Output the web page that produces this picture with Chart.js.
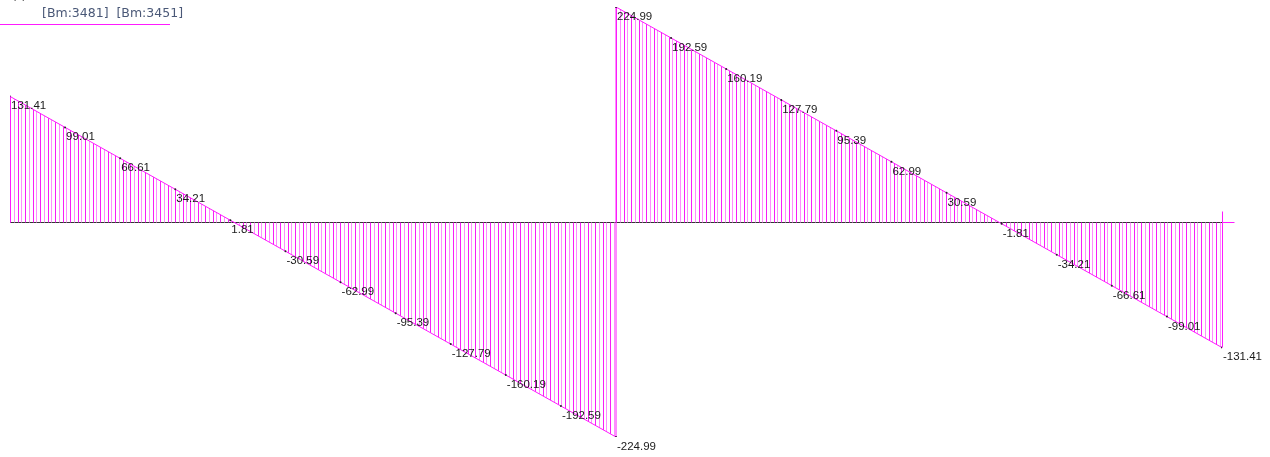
<!DOCTYPE html>
<html>
<head>
<meta charset="utf-8">
<script src="https://cdn.jsdelivr.net/npm/chart.js@4.4.0/dist/chart.umd.min.js"></script>
<style>
  html, body { margin: 0; padding: 0; background: #fff; overflow: hidden; }
  #grafico { display: block; }
</style>
</head>
<body>
<canvas id="grafico" width="1270" height="457"></canvas>
<script>
// estaciones a lo largo de las dos vigas (0..11 primer tramo, 11..22 segundo)
const estaciones1 = [0, 1, 2, 3, 4, 5, 6, 7, 8, 9, 10, 11];
const cortante1 = [131.41, 99.01, 66.61, 34.21, 1.81, -30.59, -62.99, -95.39, -127.79, -160.19, -192.59, -224.99];
const estaciones2 = [11, 12, 13, 14, 15, 16, 17, 18, 19, 20, 21, 22];
const cortante2 = [224.99, 192.59, 160.19, 127.79, 95.39, 62.99, 30.59, -1.81, -34.21, -66.61, -99.01, -131.41];
const titulo = "[Bm:3481]  [Bm:3451]";

const MAGENTA = "#ff1aff";

const puntos = (xs, ys) => xs.map((x, i) => ({ x, y: ys[i] }));

const pluginDiagrama = {
  id: "diagrama",
  beforeDatasetsDraw(chart) {
    const { ctx, scales: { x, y } } = chart;
    const y0 = Math.round(y.getPixelForValue(0)) + 0.5;
    ctx.save();
    ctx.strokeStyle = "#333";
    ctx.lineWidth = 1;
    ctx.beginPath();
    ctx.moveTo(x.getPixelForValue(estaciones1[0]), y0);
    ctx.lineTo(x.getPixelForValue(estaciones2[estaciones2.length - 1]), y0);
    ctx.stroke();

    // rayado vertical entre el diagrama y el eje
    [[estaciones1, cortante1], [estaciones2, cortante2]].forEach(([xs, ys]) => {
      const xa = x.getPixelForValue(xs[0]);
      const xb = x.getPixelForValue(xs[xs.length - 1]);
      ctx.save();
      ctx.beginPath();
      ctx.moveTo(xa, y0);
      xs.forEach((ex, i) => ctx.lineTo(x.getPixelForValue(ex), y.getPixelForValue(ys[i])));
      ctx.lineTo(xb, y0);
      ctx.closePath();
      ctx.clip();
      let k = 0;
      for (let px = Math.round(xa); px <= xb + 1; px += (k % 4 === 3 ? 3 : 4)) {
        ctx.fillStyle = k % 2 === 0 ? "#f71ef7" : "#ff8cff";
        ctx.fillRect(px, chart.chartArea.top - 2, 1, chart.chartArea.bottom - chart.chartArea.top + 4);
        k++;
      }
      ctx.restore();
    });
    ctx.restore();
  },
  afterDatasetsDraw(chart) {
    const { ctx, scales: { x, y } } = chart;
    const y0 = Math.round(y.getPixelForValue(0)) + 0.5;
    ctx.save();
    ctx.strokeStyle = MAGENTA;
    ctx.lineWidth = 1;
    // bordes verticales de los tramos
    const bordes = [
      [estaciones1[0], cortante1[0]],
      [estaciones2[estaciones2.length - 1], cortante2[cortante2.length - 1]]
    ];
    bordes.forEach(([ex, v]) => {
      const px = Math.round(x.getPixelForValue(ex)) + 0.5;
      ctx.beginPath();
      ctx.moveTo(px, y0);
      ctx.lineTo(px, y.getPixelForValue(v));
      ctx.stroke();
    });
    // marca del final del eje
    const xf = Math.round(x.getPixelForValue(estaciones2[estaciones2.length - 1])) + 0.5;
    ctx.beginPath();
    ctx.moveTo(xf, y0);
    ctx.lineTo(xf + 12, y0);
    ctx.moveTo(xf, y0);
    ctx.lineTo(xf, y0 - 11);
    ctx.stroke();

    // etiquetas de valores
    ctx.fillStyle = "#1a1a1a";
    ctx.font = "11.5px 'Liberation Sans', Arial, sans-serif";
    ctx.textBaseline = "top";
    ctx.textAlign = "left";
    [[estaciones1, cortante1], [estaciones2, cortante2]].forEach(([xs, ys]) => {
      xs.forEach((ex, i) => {
        const px = x.getPixelForValue(ex);
        const py = y.getPixelForValue(ys[i]);
        ctx.fillText(ys[i].toFixed(2), px + 1, py + 4);
      });
    });

    // encabezado
    ctx.fillStyle = "#4a5877";
    ctx.font = "12.5px 'DejaVu Sans', Tahoma, sans-serif";
    ctx.fillText(titulo, 42, 7);
    ctx.fillStyle = "#555";
    ctx.fillText("(-)", 12, -10);
    ctx.strokeStyle = MAGENTA;
    ctx.beginPath();
    ctx.moveTo(0, 24.5);
    ctx.lineTo(170, 24.5);
    ctx.stroke();
    ctx.restore();
  }
};

const ctx = document.getElementById("grafico").getContext("2d");
new Chart(ctx, {
  type: "line",
  data: {
    datasets: [
      {
        data: puntos(estaciones1.concat(estaciones2), cortante1.concat(cortante2)),
        borderColor: MAGENTA,
        borderWidth: 1,
        fill: false,
        tension: 0,
        pointRadius: 1,
        pointBackgroundColor: "#222",
        pointBorderWidth: 0
      }
    ]
  },
  options: {
    responsive: false,
    animation: false,
    devicePixelRatio: 1,
    layout: { padding: { left: 10, right: 48, top: 7, bottom: 20 } },
    plugins: { legend: { display: false }, tooltip: { enabled: false } },
    scales: {
      x: { type: "linear", min: 0, max: 22, display: false },
      y: { min: -224.99, max: 224.99, display: false }
    }
  },
  plugins: [pluginDiagrama]
});
</script>
</body>
</html>
